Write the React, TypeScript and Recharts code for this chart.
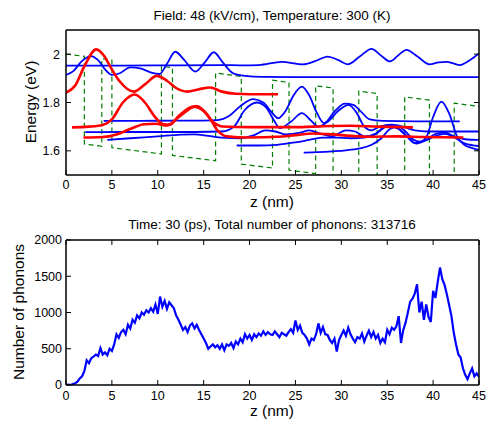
import { LineChart, Line, XAxis, YAxis } from "recharts";

type Pt = [number, number];

const FONT = "'Liberation Sans', Arial, Helvetica, sans-serif";

const zTicks = [0, 5, 10, 15, 20, 25, 30, 35, 40, 45];
const energyTicks = [1.6, 1.8, 2];
const phononTicks = [0, 500, 1000, 1500, 2000];

// conduction band edge (green dashed)
const bandProfile: Pt[] = [
  [0, 2.0], [2.0, 1.991], [2.0, 1.628], [3.9, 1.619], [3.9, 1.981], [5.0, 1.976],
  [5.0, 1.613], [10.4, 1.587], [10.4, 1.95], [11.6, 1.944], [11.6, 1.581], [16.3, 1.559],
  [16.3, 1.922], [19.1, 1.908], [19.1, 1.545], [22.5, 1.529], [22.5, 1.892], [24.3, 1.883],
  [24.3, 1.52], [27.2, 1.506], [27.2, 1.869], [29.1, 1.86], [29.1, 1.497], [31.9, 1.484],
  [31.9, 1.847], [33.9, 1.837], [33.9, 1.474], [36.9, 1.46], [36.9, 1.823], [39.6, 1.81],
  [39.6, 1.447], [42.3, 1.434], [42.3, 1.797], [45, 1.784],
];

// blue wavefunctions
const stateA: Pt[] = [
  [0, 1.953], [6, 1.953], [12, 1.954], [17, 1.955], [19, 1.954], [21, 1.955], [23.5, 1.968],
  [25.8, 1.958], [27.2, 1.972], [28.5, 1.99], [29.7, 1.975], [30.7, 1.958], [32, 1.99],
  [33.3, 2.022], [34.3, 1.995], [35.3, 1.97], [36.2, 1.995], [37.1, 2.018], [38.3, 1.99],
  [39.6, 1.958], [40.6, 1.966], [41.5, 1.968], [42.2, 1.962], [42.9, 1.955], [44, 1.975],
  [45, 2.003],
];
const stateB: Pt[] = [
  [0, 1.914], [0.8, 1.93], [1.7, 1.97], [2.7, 1.992], [3.5, 1.975], [4.3, 1.935], [5, 1.914],
  [5.8, 1.92], [7, 1.945], [8.2, 1.94], [9.2, 1.925], [10.2, 1.918], [11, 1.96], [11.9, 2.01],
  [12.9, 1.975], [14.1, 1.928], [15.1, 1.965], [16.1, 2.008], [17.1, 1.965], [18.2, 1.921],
  [19.5, 1.91], [21.5, 1.906], [25, 1.905], [45, 1.905],
];
const stateC: Pt[] = [
  [4.1, 1.724], [8, 1.724], [12, 1.725], [15, 1.725], [16.5, 1.727], [17.8, 1.745], [19, 1.785],
  [20.4, 1.814], [21.5, 1.8], [22.4, 1.76], [23.1, 1.735], [24, 1.77], [24.8, 1.83],
  [25.7, 1.866], [26.5, 1.83], [27.3, 1.76], [28.1, 1.715], [29.3, 1.765], [30.4, 1.795],
  [31.3, 1.79], [32.2, 1.76], [33.1, 1.73], [34.5, 1.724], [38, 1.722], [42.9, 1.722],
];
const stateD: Pt[] = [
  [2.1, 1.677], [6, 1.678], [10, 1.678], [14, 1.678], [17, 1.68], [18.3, 1.7], [19.5, 1.77],
  [20.8, 1.8], [21.8, 1.78], [22.6, 1.73], [23.3, 1.694], [24.5, 1.72], [25.7, 1.756],
  [26.7, 1.725], [27.5, 1.7], [28.5, 1.72], [29.8, 1.77], [30.8, 1.79], [31.7, 1.755],
  [32.5, 1.7], [33.3, 1.685], [34.2, 1.7], [35.5, 1.708], [36.7, 1.7], [38, 1.685],
  [40, 1.68], [45, 1.68],
];
const stateE: Pt[] = [
  [4.5, 1.645], [7, 1.652], [10, 1.66], [12.5, 1.667], [14, 1.668], [15.5, 1.662], [17, 1.655],
  [19, 1.652], [20.5, 1.665], [21.7, 1.685], [22.8, 1.68], [24, 1.668], [25.5, 1.675],
  [26.5, 1.685], [27.8, 1.67], [29, 1.66], [30.5, 1.685], [31.5, 1.68], [32.5, 1.66],
  [33.5, 1.665], [35, 1.705], [36.3, 1.69], [37.3, 1.655], [38.2, 1.63], [39.2, 1.645],
  [40.3, 1.67], [41.3, 1.675], [42.3, 1.66], [43.5, 1.648], [45, 1.645],
];
const stateF: Pt[] = [
  [18.6, 1.622], [21, 1.622], [23, 1.625], [25, 1.635], [26.5, 1.645], [28, 1.655],
  [29.5, 1.655], [31, 1.652], [32.5, 1.655], [33.8, 1.672], [35, 1.7], [36, 1.695],
  [37, 1.665], [38, 1.632], [39, 1.64], [40.2, 1.66], [41.3, 1.67], [42.3, 1.655],
  [43.5, 1.63], [45, 1.62],
];
const stateG: Pt[] = [
  [25.9, 1.593], [27.5, 1.595], [29, 1.598], [30.5, 1.602], [32, 1.61], [33.3, 1.625],
  [34.3, 1.65], [35.3, 1.69], [36.2, 1.7], [37, 1.68], [37.8, 1.648], [38.6, 1.638],
  [39.3, 1.66], [40, 1.74], [40.9, 1.804], [41.8, 1.75], [42.6, 1.66], [43.3, 1.628],
  [44.2, 1.612], [45, 1.604],
];

// red wavefunctions
const stateR1: Pt[] = [
  [0, 1.841], [1, 1.87], [2, 1.95], [3.3, 2.02], [4.2, 1.99], [4.8, 1.95], [5.8, 1.89],
  [7.4, 1.845], [8.6, 1.875], [9.9, 1.91], [11, 1.89], [12, 1.86], [13.2, 1.845],
  [14.5, 1.855], [15.7, 1.862], [17, 1.845], [18.5, 1.836], [20, 1.834], [23.1, 1.834],
];
const stateR2: Pt[] = [
  [0.65, 1.697], [2.5, 1.7], [4, 1.707], [5, 1.73], [6.2, 1.8], [7.5, 1.833], [8.6, 1.8],
  [9.6, 1.745], [10.6, 1.71], [11.3, 1.708], [12.3, 1.745], [13.9, 1.783], [15, 1.765],
  [16, 1.72], [17, 1.701], [20, 1.698], [25, 1.698], [28, 1.702], [31, 1.704], [34, 1.7],
  [37.8, 1.697],
];
const stateR3: Pt[] = [
  [1.9, 1.655], [4, 1.657], [5.5, 1.668], [7, 1.69], [8.5, 1.71], [9.8, 1.712], [11, 1.705],
  [12.3, 1.74], [14.2, 1.785], [15.4, 1.75], [16.5, 1.685], [17.5, 1.66], [20, 1.655],
  [23, 1.658], [25, 1.665], [27, 1.672], [29, 1.668], [31, 1.662], [33, 1.658], [36, 1.66],
  [39, 1.657], [43.3, 1.655],
];

const blueStates = [stateA, stateB, stateC, stateD, stateE, stateF, stateG];
const redStates = [stateR1, stateR2, stateR3];

// phonon count per z
const phonons: Pt[] = [
  [0, 0], [0.25, 5], [0.5, 0], [0.75, 12], [1, 25], [1.25, 45], [1.5, 90], [1.75, 120],
  [2, 190], [2.25, 340], [2.5, 300], [2.75, 370], [3, 390], [3.25, 420], [3.5, 400], [3.75, 510],
  [4, 420], [4.25, 450], [4.5, 410], [4.75, 500], [5, 470], [5.25, 560], [5.5, 700], [5.75, 650],
  [6, 730], [6.25, 760], [6.5, 700], [6.75, 830], [7, 780], [7.25, 900], [7.5, 860], [7.75, 960],
  [8, 920], [8.25, 1000], [8.5, 970], [8.75, 1030], [9, 1000], [9.25, 1060], [9.5, 1010], [9.75, 1110],
  [10, 980], [10.25, 1220], [10.5, 1080], [10.75, 1160], [11, 1050], [11.25, 1140], [11.5, 1100], [11.75, 1060],
  [12, 960], [12.25, 900], [12.5, 830], [12.75, 760], [13, 800], [13.25, 730], [13.5, 820], [13.75, 850],
  [14, 780], [14.25, 830], [14.5, 760], [14.75, 700], [15, 640], [15.25, 580], [15.5, 500], [15.75, 530],
  [16, 560], [16.25, 520], [16.5, 550], [16.75, 500], [17, 560], [17.25, 480], [17.5, 560], [17.75, 540],
  [18, 580], [18.25, 510], [18.5, 600], [18.75, 560], [19, 640], [19.25, 590], [19.5, 700], [19.75, 640],
  [20, 690], [20.25, 620], [20.5, 700], [20.75, 660], [21, 710], [21.25, 680], [21.5, 740], [21.75, 690],
  [22, 730], [22.25, 700], [22.5, 690], [22.75, 740], [23, 700], [23.25, 660], [23.5, 720], [23.75, 700],
  [24, 680], [24.25, 730], [24.5, 770], [24.75, 720], [25, 890], [25.25, 760], [25.5, 820], [25.75, 720],
  [26, 690], [26.25, 640], [26.5, 560], [26.75, 640], [27, 620], [27.25, 700], [27.5, 850], [27.75, 720],
  [28, 800], [28.25, 700], [28.5, 690], [28.75, 620], [29, 580], [29.25, 640], [29.5, 460], [29.75, 620],
  [30, 690], [30.25, 750], [30.5, 680], [30.75, 790], [31, 700], [31.25, 640], [31.5, 590], [31.75, 660],
  [32, 640], [32.25, 710], [32.5, 600], [32.75, 680], [33, 750], [33.25, 660], [33.5, 730], [33.75, 640],
  [34, 690], [34.25, 580], [34.5, 640], [34.75, 590], [35, 760], [35.25, 700], [35.5, 790], [35.75, 760],
  [36, 810], [36.25, 950], [36.5, 580], [36.75, 760], [37, 860], [37.25, 1000], [37.5, 1150], [37.75, 1190],
  [38, 1260], [38.25, 1390], [38.5, 1000], [38.75, 1150], [39, 900], [39.25, 1110], [39.5, 940], [39.75, 870],
  [40, 1300], [40.25, 1200], [40.5, 1420], [40.75, 1620], [41, 1460], [41.25, 1380], [41.5, 1250], [41.75, 1100],
  [42, 950], [42.25, 720], [42.5, 560], [42.75, 420], [43, 380], [43.25, 230], [43.5, 140], [43.75, 80],
  [44, 160], [44.25, 230], [44.5, 120], [44.75, 160], [45, 110],
];

const toRows = (pts: Pt[]) => pts.map(([z, v]) => ({ z, v }));

const axisLine = { stroke: "#000", strokeWidth: 1.5 };
const tickLine = { stroke: "#000", strokeWidth: 1 };
const tickFont = { fontSize: 12.5, fill: "#000", fontFamily: FONT };
const blank = () => "";
const chartMargin = { top: 29, right: 7, bottom: 0, left: 0 };

export default function App() {
  return (
    <div style={{ position: "absolute", left: 0, top: 0, width: 487, height: 423, background: "#fff" }}>
      <div style={{ position: "absolute", left: 0, top: 0 }}>
        <LineChart width={487} height={210} margin={chartMargin}>
          <XAxis dataKey="z" type="number" domain={[0, 45]} ticks={zTicks} allowDataOverflow
            height={35} axisLine={axisLine} tickLine={tickLine} tickSize={-5} tickMargin={10} tick={tickFont} />
          <XAxis xAxisId="top" orientation="top" dataKey="z" type="number" domain={[0, 45]} ticks={zTicks}
            height={1} axisLine={axisLine} tickLine={tickLine} tickSize={-5} tickFormatter={blank} />
          <YAxis type="number" domain={[1.5, 2.1]} ticks={energyTicks} allowDataOverflow width={66}
            axisLine={axisLine} tickLine={tickLine} tickSize={-5} tickMargin={11} tick={tickFont} />
          <YAxis yAxisId="right" orientation="right" type="number" domain={[1.5, 2.1]} ticks={energyTicks}
            allowDataOverflow width={1} axisLine={axisLine} tickLine={tickLine} tickSize={-5} tickFormatter={blank} />
          <Line data={toRows(bandProfile)} dataKey="v" type="linear" stroke="#008000" strokeWidth={1.2}
            strokeDasharray="5 3.5" dot={false} isAnimationActive={false} />
          {blueStates.map((s, i) => (
            <Line key={"b" + i} data={toRows(s)} dataKey="v" type="monotone" stroke="#0000ff"
              strokeWidth={1.8} dot={false} isAnimationActive={false} />
          ))}
          {redStates.map((s, i) => (
            <Line key={"r" + i} data={toRows(s)} dataKey="v" type="monotone" stroke="#ff0000"
              strokeWidth={2.6} dot={false} isAnimationActive={false} />
          ))}
        </LineChart>
      </div>
      <div style={{ position: "absolute", left: 0, top: 210 }}>
        <LineChart width={487} height={213} data={toRows(phonons)} margin={chartMargin}>
          <XAxis dataKey="z" type="number" domain={[0, 45]} ticks={zTicks} allowDataOverflow
            height={38} axisLine={axisLine} tickLine={tickLine} tickSize={-5} tickMargin={11} tick={tickFont} />
          <XAxis xAxisId="top" orientation="top" dataKey="z" type="number" domain={[0, 45]} ticks={zTicks}
            height={1} axisLine={axisLine} tickLine={tickLine} tickSize={-5} tickFormatter={blank} />
          <YAxis type="number" domain={[0, 2000]} ticks={phononTicks} allowDataOverflow width={66}
            axisLine={axisLine} tickLine={tickLine} tickSize={-5} tickMargin={9} tick={tickFont} />
          <YAxis yAxisId="right" orientation="right" type="number" domain={[0, 2000]} ticks={phononTicks}
            width={1} axisLine={axisLine} tickLine={tickLine} tickSize={-5} tickFormatter={blank} />
          <Line dataKey="v" type="linear" stroke="#0000ff" strokeWidth={2.2} dot={false} isAnimationActive={false} />
        </LineChart>
      </div>
      <svg width={487} height={423} style={{ position: "absolute", left: 0, top: 0, pointerEvents: "none" }}
        fontFamily={FONT} fill="#000">
        <text x={272} y={20} fontSize={13.5} textAnchor="middle">Field: 48 (kV/cm), Temperature: 300 (K)</text>
        <text x={272} y={207} fontSize={15.5} textAnchor="middle">z (nm)</text>
        <text transform="translate(36,102) rotate(-90)" fontSize={15.5} textAnchor="middle">Energy (eV)</text>
        <text x={272} y={229} fontSize={13.5} textAnchor="middle">Time: 30 (ps), Total number of phonons: 313716</text>
        <text x={272} y={416} fontSize={15.5} textAnchor="middle">z (nm)</text>
        <text transform="translate(24,312) rotate(-90)" fontSize={15.5} textAnchor="middle">Number of phonons</text>
      </svg>
    </div>
  );
}
